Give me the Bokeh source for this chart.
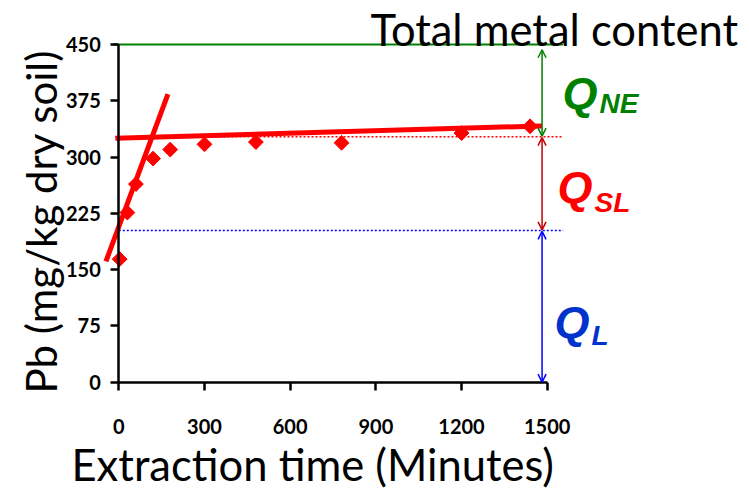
import math
from bokeh.plotting import figure
from bokeh.models import Range1d, FixedTicker, Label, Arrow, OpenHead
from bokeh.embed import file_html
from bokeh.resources import INLINE

# ---- data ----
time_min = [3, 30, 60, 120, 180, 300, 480, 780, 1200, 1440]
pb_mg_kg = [164, 226, 264, 298, 310, 317, 320, 319, 332, 341]

fast_fit_x = [-45, 172]
fast_fit_y = [161, 384]
slow_fit_x = [-12, 1482]
slow_fit_y = [325, 341.5]

total_metal = 450
q_sl_top = 327
q_l_top = 202
level_x_end = 1556
arrow_x = 1482

x_ticks = [0, 300, 600, 900, 1200, 1500]
y_ticks = [0, 75, 150, 225, 300, 375, 450]

# ---- pixel mapping (frame covers the whole canvas) ----
W, H = 749, 489
X0_PX, X_SCALE = 118.3, 428.4 / 1500.0
Y0_PX, Y_SCALE = 381.7, 337.7 / 450.0

def px2x(px):
    return (px - X0_PX) / X_SCALE

def px2y(py):
    return (Y0_PX - py) / Y_SCALE

p = figure(width=W, height=H, output_backend="svg", toolbar_location=None,
           x_range=Range1d(px2x(0), px2x(W)), y_range=Range1d(px2y(H), px2y(0)),
           min_border=0, min_border_left=0, min_border_right=0,
           min_border_top=0, min_border_bottom=0)
p.outline_line_color = None
p.grid.visible = False
p.background_fill_color = "white"
p.border_fill_color = "white"

TICK_FONT = "Lato"
for ax in (p.xaxis[0], p.yaxis[0]):
    ax.fixed_location = 0
    ax.axis_line_width = 2.5
    ax.axis_line_color = "black"
    ax.major_tick_line_width = 2.5
    ax.major_tick_line_color = "black"
    ax.major_tick_in = 0
    ax.major_tick_out = 8
    ax.minor_tick_line_color = None
    ax.major_label_text_font = TICK_FONT
    ax.major_label_text_font_style = "bold"
    ax.major_label_text_font_size = "20px"
    ax.major_label_text_color = "black"

p.xaxis[0].ticker = FixedTicker(ticks=x_ticks)
p.xaxis[0].bounds = (0, 1500)
p.xaxis[0].major_label_standoff = 29
p.yaxis[0].ticker = FixedTicker(ticks=y_ticks)
p.yaxis[0].bounds = (0, 450)
p.yaxis[0].major_label_standoff = 10

# reference levels
p.line([px2x(113), level_x_end], [total_metal, total_metal], line_color="#008000", line_width=2)
p.line([px2x(115), level_x_end], [q_sl_top, q_sl_top], line_color="#FF0000", line_width=1.5, line_dash="2 2")
p.line([0, level_x_end], [q_l_top, q_l_top], line_color="#0000FF", line_width=1.5, line_dash="2 2")

# fits
p.line(fast_fit_x, fast_fit_y, line_color="#FF0000", line_width=5)
p.line(slow_fit_x, slow_fit_y, line_color="#FF0000", line_width=5)

# data
p.scatter(time_min, pb_mg_kg, marker="square", angle=math.pi / 4, size=10.5,
          fill_color="#FF0000", line_color="#FF0000")

# arrows
def add_arrow(y0, y1, color):
    p.add_layout(Arrow(x_start=arrow_x, y_start=y0, x_end=arrow_x, y_end=y1,
                       line_color=color, line_width=1.5,
                       start=OpenHead(size=8, line_color=color, line_width=1.5),
                       end=OpenHead(size=8, line_color=color, line_width=1.5)))

add_arrow(total_metal - 7, q_sl_top + 1, "#008000")
add_arrow(q_sl_top - 1, q_l_top + 1, "#C00000")
add_arrow(q_l_top - 1, 0, "#0000FF")

# texts (baseline correction: rendered baseline sits ~0.36 em lower)
SHIFT = 0.355

def text_label(text, x_px, base_px, size, font, style="normal", color="black",
               align="left", angle=0.0, baseline="alphabetic"):
    dy = SHIFT * size if baseline == "alphabetic" else 0.0
    p.add_layout(Label(x=px2x(x_px), y=px2y(base_px - dy), text=text, angle=angle,
                       text_font=font, text_font_size=f"{size}px", text_font_style=style,
                       text_color=color, text_align=align, text_baseline=baseline))

BIG = "Lato"
text_label("Pb (mg/kg dry soil)", 40.5, 393, 42, BIG, align="left",
           angle=math.pi / 2, baseline="middle")
text_label("Extraction time (Minutes)", 71, 479, 43.5, BIG)
text_label("Total metal content", 370, 44, 43.5, BIG)

QF = "Liberation Sans"
def q_label(x_px, base_px, sub, sub_base_px, color):
    text_label("Q", x_px, base_px, 45, QF, style="bold italic", color=color)
    text_label(sub, x_px + 37, sub_base_px, 28, QF, style="bold italic", color=color)

q_label(562, 109, "NE", 113, "#008000")
q_label(557, 203, "SL", 212, "#FF0000")
q_label(554, 338, "L", 345, "#0033CC")

open("out.html", "w").write(file_html(p, INLINE))
